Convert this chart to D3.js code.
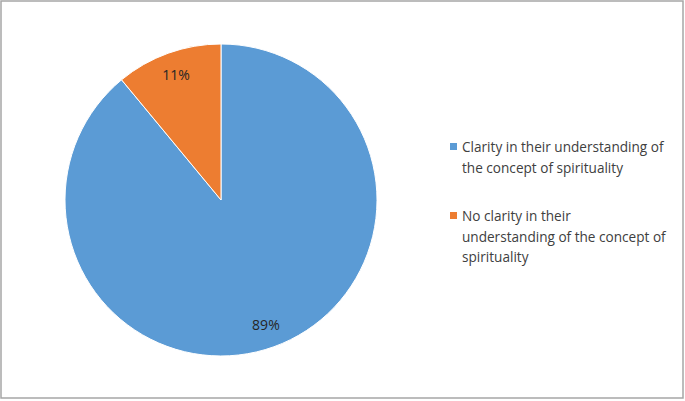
<!DOCTYPE html>
<html>
<head>
  <meta charset="utf-8">
  <script src="https://d3js.org/d3.v7.min.js"></script>
  <style>
    body { margin: 0; background: #fff; }
    svg { font-family: "Open Sans", "Liberation Sans", sans-serif; }
    .pct { font-size: 14px; fill: #262626; text-anchor: middle; }
    .legend text { font-size: 13.6px; fill: #404040; }
  </style>
</head>
<body>
  <svg></svg>
  <script>
    // data
    var categories = ["Clarity in their understanding of the concept of spirituality",
                      "No clarity in their understanding of the concept of spirituality"];
    var values = [89, 11];
    var legendLines = [
      ["Clarity in their understanding of", "the concept of spirituality"],
      ["No clarity in their", "understanding of the concept of", "spirituality"]
    ];
    var colors = ["#5B9BD5", "#ED7D31"];

    var width = 685, height = 401,
      center = [221, 200],
      radius = 156;

    var svg = d3.select("svg")
      .attr("width", width)
      .attr("height", height);

    svg.append("rect")
      .attr("x", 1).attr("y", 1)
      .attr("width", width - 3).attr("height", height - 4)
      .attr("fill", "none")
      .attr("stroke", "#a6a6a6")
      .attr("stroke-width", 1.5);

    var pie = d3.pie().sort(null)(values);
    var arc = d3.arc().innerRadius(0).outerRadius(radius);
    var labelArc = d3.arc().innerRadius(radius * 0.85).outerRadius(radius * 0.85);

    var g = svg.append("g")
      .attr("transform", "translate(" + center + ")");

    g.selectAll("path")
      .data(pie)
      .enter()
      .append("path")
      .attr("d", arc)
      .attr("fill", function (d, i) { return colors[i]; })
      .attr("stroke", "#fff")
      .attr("stroke-width", 1);

    g.selectAll(".pct")
      .data(pie)
      .enter()
      .append("text")
      .classed("pct", true)
      .attr("transform", function (d) {
        var c = labelArc.centroid(d);
        return "translate(" + c + ")";
      })
      .attr("dy", "0.35em")
      .text(function (d) { return d.data + "%"; });

    // legend
    var legendY = [152, 221];
    var legend = svg.append("g").classed("legend", true);
    legendLines.forEach(function (lines, i) {
      legend.append("rect")
        .attr("x", 450).attr("y", legendY[i] - 9)
        .attr("width", 7).attr("height", 7)
        .attr("fill", colors[i]);
      var t = legend.append("text")
        .attr("x", 462).attr("y", legendY[i]);
      lines.forEach(function (l, j) {
        t.append("tspan")
          .attr("x", 462)
          .attr("dy", j === 0 ? 0 : 20.5)
          .text(l);
      });
    });
  </script>
</body>
</html>
